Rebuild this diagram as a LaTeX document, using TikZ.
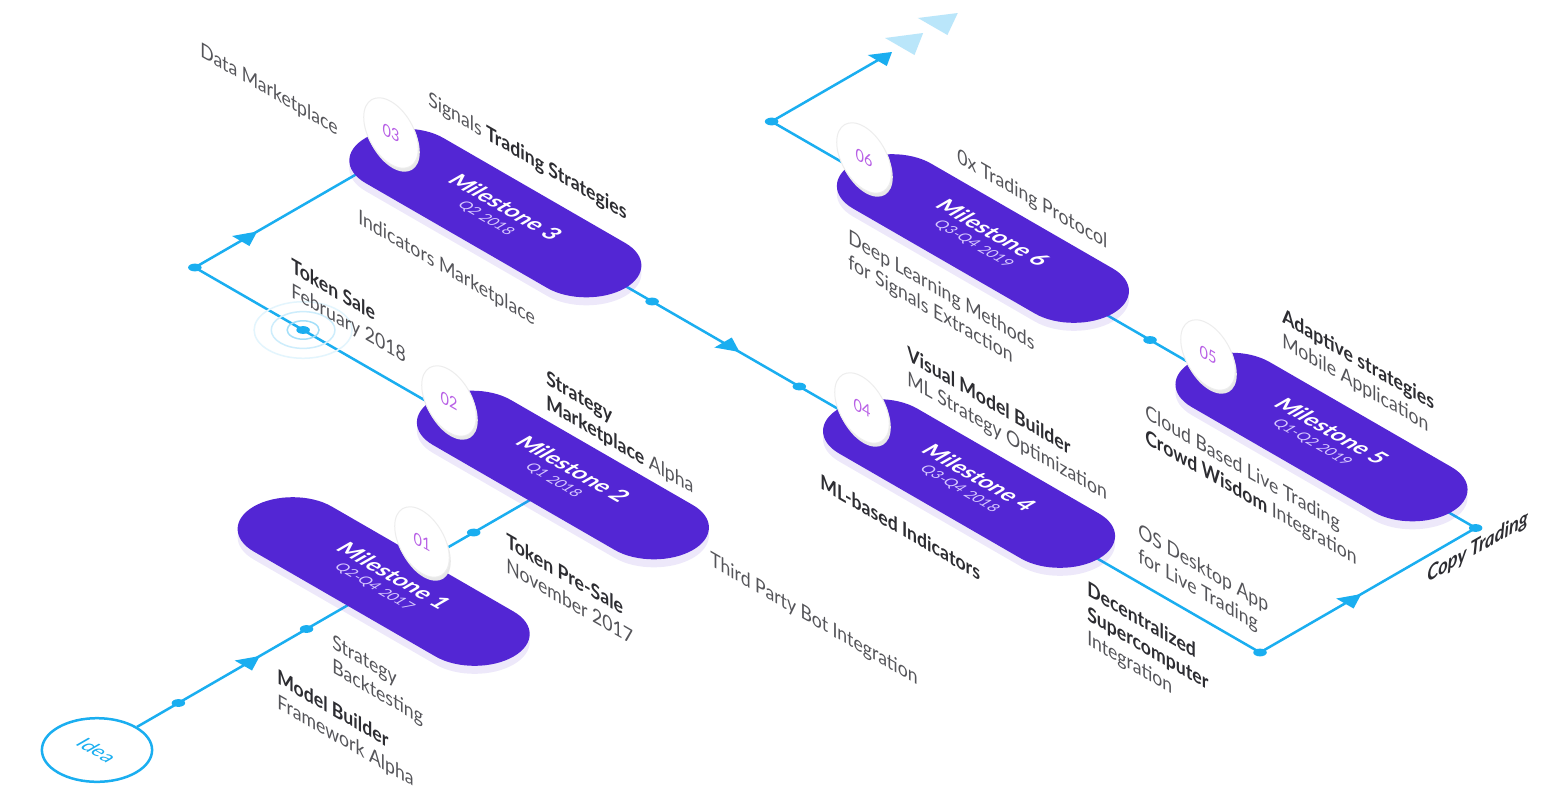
\documentclass[tikz,border=0pt]{standalone}
\usepackage{fontspec}
\setmainfont{Lato}
\usepackage{tikz}
\definecolor{routeBlue}{RGB}{26,174,240}
\definecolor{routeFade}{RGB}{186,230,250}
\definecolor{mileViolet}{RGB}{83,38,212}
\definecolor{numViolet}{RGB}{184,96,230}
\definecolor{dateLilac}{RGB}{215,200,255}
\definecolor{labelDark}{RGB}{45,45,50}
\definecolor{labelGrey}{RGB}{85,85,90}
\newcommand{\keyword}[1]{{\bfseries\color{labelDark}#1}}

\begin{document}
\begin{tikzpicture}[x=0.2mm, y=0.2mm,
    iso/.style={cm={0.866,-0.5,0.866,0.5,(0,0)}},
    route/.style={routeBlue, line width=0.5mm, line join=round},
    pill/.style={fill=mileViolet},
    pillglow/.style={fill=mileViolet, opacity=0.10},
    idearing/.style={circle, draw=routeBlue, line width=0.5mm, minimum size=18mm,
      transform shape, text=routeBlue, font=\fontsize{11.5}{13}\selectfont},
    milename/.style={transform shape, text=white, font=\fontsize{13}{15}\selectfont\bfseries},
    miledate/.style={transform shape, text=dateLilac, font=\fontsize{8.5}{10}\selectfont},
    disc/.style={circle, fill=white, draw=black!7, line width=0.2mm, inner sep=0pt,
      minimum size=12.6mm, cm={0.866,-0.5,0,1,(0,0)}, text=numViolet,
      font=\fontsize{9.5}{10}\selectfont,
      preaction={fill=black!9, transform canvas={shift={(0.3mm,-0.7mm)}}}},
    sidelabel/.style={cm={0.866,-0.5,0,1,(0,0)}, anchor=north west, inner sep=0pt,
      align=left, text=labelGrey, font=\fontsize{11.6}{14}\selectfont},
    risinglabel/.style={cm={0.866,0.5,0,1,(0,0)}, anchor=base west, inner sep=0pt,
      text=labelDark, font=\fontsize{12}{14}\selectfont\bfseries\itshape},
  ]
  \fill[white] (0,0) rectangle (1567,-799);
  \useasboundingbox (0,0) rectangle (1567,-799);

  \begin{scope}[iso]
    % Route
    \node[idearing] (idea) at (806,-694) {Idea};
    \coordinate (turnM2) at (806,-155);
    \coordinate (cornerA) at (380,-155);
    \coordinate (cornerB) at (380,75);
    \coordinate (cornerC) at (1380,75);
    \coordinate (cornerD) at (1380,324);
    \coordinate (cornerE) at (567,324);
    \coordinate (routeEnd) at (567,447);
    \draw[route] (idea) -- (turnM2) -- (cornerA) -- (cornerB) -- (cornerC)
      -- (cornerD) -- (cornerE) -- (routeEnd);
    % Token sale ripple
    \draw[routeBlue!40, line width=0.3mm] (505,-155) circle (13);
    \draw[routeBlue!22, line width=0.3mm] (505,-155) circle (26);
    \draw[routeBlue!12, line width=0.3mm] (505,-155) circle (40);
    % Dots
    \fill[routeBlue] (806,-600) circle (5.5);
    \fill[routeBlue] (806,-452) circle (5.5);
    \fill[routeBlue] (806,-259) circle (5.5);
    \fill[routeBlue] (cornerA) circle (5.5);
    \fill[routeBlue] (505,-155) circle (5.5);
    \fill[routeBlue] (678,75) circle (5.5);
    \fill[routeBlue] (848,75) circle (5.5);
    \fill[routeBlue] (cornerC) circle (5.5);
    \fill[routeBlue] (cornerD) circle (5.5);
    \fill[routeBlue] (1004,324) circle (5.5);
    \fill[routeBlue] (cornerE) circle (5.5);
    % Arrow heads
    \fill[routeBlue] (796,-525) -- (816,-525) -- (806,-506) -- cycle;
    \fill[routeBlue] (370,-102) -- (390,-102) -- (380,-83) -- cycle;
    \fill[routeBlue] (760,65) -- (760,85) -- (779,75) -- cycle;
    \fill[routeBlue] (1370,173) -- (1390,173) -- (1380,192) -- cycle;
    \fill[routeBlue] (556,446) -- (578,446) -- (567,463) -- cycle;
    \fill[routeFade] (549,473) -- (583,473) -- (566,500) -- cycle;
    \fill[routeFade] (548,512) -- (582,512) -- (566,540) -- cycle;

    % Milestone 1
    \fill[pillglow] (706,-413) -- (916,-413) arc[start angle=-90, end angle=90, radius=45] -- (706,-323) arc[start angle=90, end angle=270, radius=45] -- cycle;
    \fill[pill] (698,-405) -- (908,-405) arc[start angle=-90, end angle=90, radius=45] -- (698,-315) arc[start angle=90, end angle=270, radius=45] -- cycle;
    \node[milename] (m1name) at (803,-348) {Milestone 1};
    \node[miledate] (m1date) at (803,-371) {Q2-Q4 2017};
    % Milestone 2
    \fill[pillglow] (703,-203) -- (913,-203) arc[start angle=-90, end angle=90, radius=45] -- (703,-113) arc[start angle=90, end angle=270, radius=45] -- cycle;
    \fill[pill] (695,-195) -- (905,-195) arc[start angle=-90, end angle=90, radius=45] -- (695,-105) arc[start angle=90, end angle=270, radius=45] -- cycle;
    \node[milename] (m2name) at (800,-138) {Milestone 2};
    \node[miledate] (m2date) at (800,-161) {Q1 2018};
    % Milestone 3
    \fill[pillglow] (402,20) -- (612,20) arc[start angle=-90, end angle=90, radius=45] -- (402,110) arc[start angle=90, end angle=270, radius=45] -- cycle;
    \fill[pill] (394,28) -- (604,28) arc[start angle=-90, end angle=90, radius=45] -- (394,118) arc[start angle=90, end angle=270, radius=45] -- cycle;
    \node[milename] (m3name) at (499,85) {Milestone 3};
    \node[miledate] (m3date) at (499,62) {Q2 2018};
    % Milestone 4
    \fill[pillglow] (946,23) -- (1156,23) arc[start angle=-90, end angle=90, radius=45] -- (946,113) arc[start angle=90, end angle=270, radius=45] -- cycle;
    \fill[pill] (938,31) -- (1148,31) arc[start angle=-90, end angle=90, radius=45] -- (938,121) arc[start angle=90, end angle=270, radius=45] -- cycle;
    \node[milename] (m4name) at (1043,88) {Milestone 4};
    \node[miledate] (m4date) at (1043,65) {Q3-Q4 2018};
    % Milestone 5
    \fill[pillglow] (1103,273) -- (1313,273) arc[start angle=-90, end angle=90, radius=45] -- (1103,363) arc[start angle=90, end angle=270, radius=45] -- cycle;
    \fill[pill] (1095,281) -- (1305,281) arc[start angle=-90, end angle=90, radius=45] -- (1095,371) arc[start angle=90, end angle=270, radius=45] -- cycle;
    \node[milename] (m5name) at (1200,338) {Milestone 5};
    \node[miledate] (m5date) at (1200,315) {Q1-Q2 2019};
    % Milestone 6
    \fill[pillglow] (709,276) -- (919,276) arc[start angle=-90, end angle=90, radius=45] -- (709,366) arc[start angle=90, end angle=270, radius=45] -- cycle;
    \fill[pill] (701,284) -- (911,284) arc[start angle=-90, end angle=90, radius=45] -- (701,374) arc[start angle=90, end angle=270, radius=45] -- cycle;
    \node[milename] (m6name) at (806,341) {Milestone 6};
    \node[miledate] (m6date) at (806,318) {Q3-Q4 2019};
  \end{scope}

  % Number discs
  \node[disc] (disc1) at (422,-542) {01};
  \node[disc] (disc2) at (449,-401) {02};
  \node[disc] (disc3) at (391,-133) {03};
  \node[disc] (disc4) at (862,-408) {04};
  \node[disc] (disc5) at (1208,-355) {05};
  \node[disc] (disc6) at (864,-158) {06};

  % Labels
  \node[sidelabel] (dataMkt) at (200,-41) {Data Marketplace};
  \node[sidelabel] (signals) at (428,-90) {Signals \keyword{Trading Strategies}};
  \node[sidelabel] (indMkt) at (358,-208) {Indicators Marketplace};
  \node[sidelabel] (tokenSale) at (291,-257) {\keyword{Token Sale}\\February 2018};
  \node[sidelabel] (stratMkt) at (546,-369) {\keyword{Strategy}\\\keyword{Marketplace} Alpha};
  \node[sidelabel] (preSale) at (506,-532) {\keyword{Token Pre-Sale}\\November 2017};
  \node[sidelabel] (botInt) at (710,-550) {Third Party Bot Integration};
  \node[sidelabel] (backtest) at (332,-633) {Strategy\\Backtesting};
  \node[sidelabel] (modelB) at (277,-668) {\keyword{Model Builder}\\Framework Alpha};
  \node[sidelabel] (zeroX) at (957,-147) {0x Trading Protocol};
  \node[sidelabel] (deepL) at (848,-228) {Deep Learning Methods\\for Signals Extraction};
  \node[sidelabel] (visualMB) at (907,-345) {\keyword{Visual Model Builder}\\ML Strategy Optimization};
  \node[sidelabel] (mlInd) at (820,-473) {\keyword{ML-based Indicators}};
  \node[sidelabel] (osApp) at (1138,-522) {OS Desktop App\\for Live Trading};
  \node[sidelabel] (superC) at (1087,-580) {\keyword{Decentralized}\\\keyword{Supercomputer}\\Integration};
  \node[sidelabel] (adaptive) at (1282,-307) {\keyword{Adaptive strategies}\\Mobile Application};
  \node[sidelabel] (cloud) at (1145,-403) {Cloud Based Live Trading\\\keyword{Crowd Wisdom} Integration};
  \node[risinglabel] (copyT) at (1427,-583) {Copy Trading};
\end{tikzpicture}
\end{document}
